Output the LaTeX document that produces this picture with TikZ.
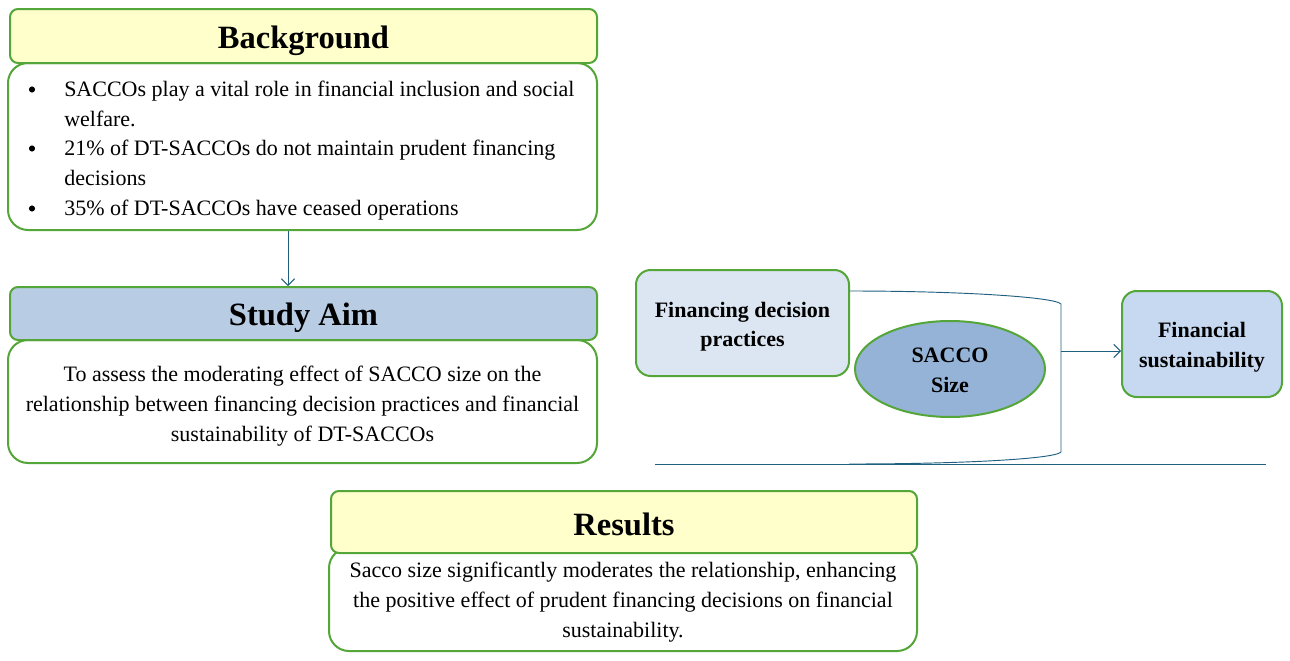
\documentclass[tikz,border=0pt]{standalone}
\usepackage{fontspec}
\setmainfont{Liberation Serif}
\usetikzlibrary{shapes.geometric,arrows.meta}
\definecolor{grn}{HTML}{54A638}
\definecolor{ylw}{HTML}{FFFFCC}
\definecolor{aimblue}{HTML}{B8CCE4}
\definecolor{fdpblue}{HTML}{DCE6F2}
\definecolor{sizeblue}{HTML}{95B3D7}
\definecolor{fsblue}{HTML}{C6D9F1}
\definecolor{lnk}{HTML}{1F5F80}
\tikzset{
  box/.style={draw=grn, line width=1.5pt, rectangle, inner sep=0pt},
  hdr/.style={box, rounded corners=6pt},
  bodybox/.style={box, fill=white, rounded corners=15pt},
  varbox/.style={box, rounded corners=11pt},
  ttl/.style={font=\fontsize{24.4}{29}\selectfont\bfseries, anchor=base, inner sep=0pt},
  txt/.style={font=\fontsize{16.5}{22}\selectfont, inner sep=0pt},
  btxt/.style={font=\fontsize{16.5}{22}\selectfont\bfseries, anchor=base, inner sep=0pt},
  dot/.style={circle, fill=black, inner sep=0pt, minimum size=4.6pt},
  conn/.style={draw=lnk, line width=0.7pt},
  tip/.style={-{Straight Barb[length=5pt,width=10pt,line width=0.7pt]}},
}
\begin{document}
\begin{tikzpicture}[x=0.75pt,y=-0.75pt]
\useasboundingbox (0,0) rectangle (1290,661);
% Background
\node[bodybox, minimum width=589*0.75pt, minimum height=167*0.75pt] (bgbody) at (302.5,146.5) {};
\node[hdr, fill=ylw, minimum width=587*0.75pt, minimum height=54*0.75pt] (bghead) at (303.5,36) {};
\node[ttl] (bgtitle) at (303.5,48) {Background};
\node[dot] (b1) at (32,89.5) {};
\node[dot] (b2) at (32,148.5) {};
\node[dot] (b3) at (32,208.5) {};
\node[txt, anchor=base west] (l1) at (64,96) {SACCOs play a vital role in financial inclusion and social};
\node[txt, anchor=base west] (l2) at (64,126) {welfare.};
\node[txt, anchor=base west] (l3) at (64,155) {21\% of DT-SACCOs do not maintain prudent financing};
\node[txt, anchor=base west] (l4) at (64,185) {decisions};
\node[txt, anchor=base west] (l5) at (64,215) {35\% of DT-SACCOs have ceased operations};
% Study aim
\node[bodybox, minimum width=589*0.75pt, minimum height=123*0.75pt] (aimbody) at (302.5,401.5) {};
\node[hdr, fill=aimblue, minimum width=587*0.75pt, minimum height=53*0.75pt] (aimhead) at (303.5,313.5) {};
\node[ttl] (aimtitle) at (303.5,325) {Study Aim};
\node[txt, anchor=base] (a1) at (302.5,381) {To assess the moderating effect of SACCO size on the};
\node[txt, anchor=base] (a2) at (302.5,411) {relationship between financing decision practices and financial};
\node[txt, anchor=base] (a3) at (302.5,441) {sustainability of DT-SACCOs};
\draw[conn, tip] (bgbody.south -| 288,0) -- (aimhead.north -| 288,0);
% Results
\node[bodybox, minimum width=588*0.75pt, minimum height=103*0.75pt] (resbody) at (623,599.5) {};
\node[hdr, fill=ylw, minimum width=586*0.75pt, minimum height=62*0.75pt] (reshead) at (624,522) {};
\node[ttl] (restitle) at (624,535) {Results};
\node[txt, anchor=base] (r1) at (623,577) {Sacco size significantly moderates the relationship, enhancing};
\node[txt, anchor=base] (r2) at (623,607) {the positive effect of prudent financing decisions on financial};
\node[txt, anchor=base] (r3) at (623,637) {sustainability.};
% Model
\node[varbox, fill=fdpblue, minimum width=213*0.75pt, minimum height=106*0.75pt] (fdp) at (742.5,323) {};
\node[btxt] (fdp1) at (742.5,317) {Financing decision};
\node[btxt] (fdp2) at (742.5,346) {practices};
\node[draw=grn, line width=1.5pt, ellipse, fill=sizeblue, minimum width=190*0.75pt, minimum height=96*0.75pt, inner sep=0pt] (size) at (950,369) {};
\node[btxt] (size1) at (950,362) {SACCO};
\node[btxt] (size2) at (950,392) {Size};
\node[varbox, fill=fsblue, minimum width=160*0.75pt, minimum height=106*0.75pt] (fs) at (1202,344) {};
\node[btxt] (fs1) at (1202,337) {Financial};
\node[btxt] (fs2) at (1202,367) {sustainability};
\coordinate (bk) at (1061,351);
\coordinate (bl) at (655,464);
\coordinate (br) at (1266,464);
\draw[conn] (fdp.east |- 0,291) .. controls (960,291) and (1055,297) .. (1061,304)
  -- (1061,452) .. controls (1055,459) and (960,464) .. (849,464);
\draw[conn, tip] (bk) -- (fs.west |- bk);
\draw[conn] (bl) -- (br);
\end{tikzpicture}
\end{document}
